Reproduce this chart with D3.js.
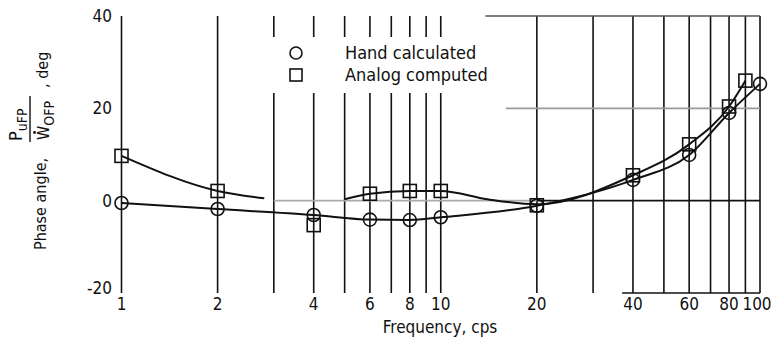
<!DOCTYPE html>
<html lang="en">
<head>
<meta charset="utf-8" />
<title>Phase angle</title>
<style>
  * { margin: 0; padding: 0; }
  body { background: white; }
  svg { display: block; }
  text { font-family: "Liberation Sans Narrow", "DejaVu Sans Condensed", "Roboto", sans-serif; fill: #111; }
  .grid { stroke: #111; stroke-width: 1.6px; }
  .curve { fill: none; stroke: #111; stroke-width: 2px; }
  .mark { fill: none; stroke: #111; stroke-width: 1.6px; }
</style>
</head>
<body>
<script src="https://cdn.jsdelivr.net/npm/d3@7"></script>
<svg id="chart" width="771" height="341"></svg>
<script>
  // tick labels
  var xTicks = [1, 2, 4, 6, 8, 10, 20, 40, 60, 80, 100];
  var yTicks = [-20, 0, 20, 40];
  var gridFreq = [1, 2, 3, 4, 5, 6, 7, 8, 9, 10, 20, 30, 40, 50, 60, 70, 80, 90, 100];

  // hand calculated (circles)
  var handFreq = [1, 2, 4, 6, 8, 10, 20, 40, 60, 80, 100];
  var handDeg = [-0.5, -1.8, -3.1, -4.1, -4.2, -3.6, -1.1, 4.5, 9.9, 19.0, 25.3];

  // analog computed (squares)
  var analogFreq = [1, 2, 4, 6, 8, 10, 20, 40, 60, 80, 90];
  var analogDeg = [9.7, 2.1, -5.3, 1.5, 2.1, 2.1, -1.0, 5.5, 12.2, 20.4, 26.0];

  // faired curve through the analog points (two pieces)
  var fairFreqA = [1, 2, 2.8];
  var fairDegA = [9.7, 2.1, 0.5];
  var fairFreqB = [5, 6, 8, 10, 14, 20, 40, 60, 80, 90];
  var fairDegB = [0.3, 1.5, 2.1, 2.1, 0.3, -0.8, 5.5, 12.2, 20.4, 26.0];

  var svg = d3.select("#chart");

  var x = d3.scaleLog().domain([1, 100]).range([121.5, 760]);
  var y = d3.scaleLinear().domain([-20, 40]).range([293, 16]);

  // vertical grid lines (3..10 are broken where the legend sits)
  gridFreq.forEach(function(f) {
    if (f >= 3 && f <= 10) {
      svg.append("line").attr("class", "grid")
        .attr("x1", x(f)).attr("x2", x(f)).attr("y1", y(40)).attr("y2", 37);
      svg.append("line").attr("class", "grid")
        .attr("x1", x(f)).attr("x2", x(f)).attr("y1", 93).attr("y2", y(-20));
    } else {
      svg.append("line").attr("class", "grid")
        .attr("x1", x(f)).attr("x2", x(f)).attr("y1", y(40)).attr("y2", y(-20));
    }
  });

  // partial horizontal lines
  var hLines = [
    {v: 40, from: 13.8, to: 100, color: "#555"},
    {v: 20, from: 16, to: 100, color: "#999"},
    {v: 0, from: 3, to: 20, color: "#aaa"},
    {v: 0, from: 20, to: 100, color: "#111"},
    {v: -20, from: 37, to: 100, color: "#111"}
  ];
  hLines.forEach(function(h) {
    svg.append("line").attr("class", "grid").style("stroke", h.color)
      .attr("x1", x(h.from)).attr("x2", x(h.to)).attr("y1", y(h.v)).attr("y2", y(h.v));
  });

  // tick labels
  svg.selectAll(".ytick").data(yTicks).enter().append("text")
    .attr("class", "ytick")
    .attr("x", 112)
    .attr("y", function(d) { return d == -20 ? y(d) - 5 : y(d); })
    .attr("dy", "0.36em")
    .attr("text-anchor", "end")
    .style("font-size", "17px")
    .text(function(d) { return d; });

  svg.selectAll(".xtick").data(xTicks).enter().append("text")
    .attr("class", "xtick")
    .attr("x", function(d) { return d == 100 ? x(d) - 3 : x(d); })
    .attr("y", 310)
    .attr("text-anchor", "middle")
    .style("font-size", "17px")
    .text(function(d) { return d; });

  svg.append("text")
    .attr("x", 440).attr("y", 333)
    .attr("text-anchor", "middle")
    .style("font-size", "17px")
    .text("Frequency, cps");

  // y axis title, rotated
  var yt = svg.append("g").attr("transform", "rotate(-90)");
  yt.append("text").attr("x", -250).attr("y", 46).style("font-size", "16px").text("Phase angle,");
  var num = yt.append("text").attr("x", -141).attr("y", 22).style("font-size", "18px");
  num.append("tspan").text("P");
  num.append("tspan").attr("dy", 5).style("font-size", "14px").text("uFP");
  yt.append("line").attr("x1", -142).attr("x2", -96).attr("y1", 30).attr("y2", 30)
    .style("stroke", "#111").style("stroke-width", "1.4px");
  var den = yt.append("text").attr("x", -140).attr("y", 49).style("font-size", "16px");
  den.append("tspan").text("W");
  den.append("tspan").attr("dy", 5).style("font-size", "14px").text("OFP");
  yt.append("circle").attr("cx", -132.5).attr("cy", 34.5).attr("r", 1.4).style("fill", "#111");
  yt.append("text").attr("x", -88).attr("y", 48).style("font-size", "16px").text(", deg");

  // curves
  var line = d3.line()
    .x(function(d) { return x(d[0]); })
    .y(function(d) { return y(d[1]); })
    .curve(d3.curveMonotoneX);

  svg.append("path").attr("class", "curve")
    .attr("d", line(d3.zip(handFreq, handDeg)));
  svg.append("path").attr("class", "curve")
    .attr("d", line(d3.zip(fairFreqA, fairDegA)));
  svg.append("path").attr("class", "curve")
    .attr("d", line(d3.zip(fairFreqB, fairDegB)));

  // markers
  var r = 6.5;
  svg.selectAll(".circ").data(d3.zip(handFreq, handDeg)).enter().append("circle")
    .attr("class", "mark circ")
    .attr("cx", function(d) { return x(d[0]); })
    .attr("cy", function(d) { return y(d[1]); })
    .attr("r", r);
  svg.selectAll(".sq").data(d3.zip(analogFreq, analogDeg)).enter().append("rect")
    .attr("class", "mark sq")
    .attr("x", function(d) { return x(d[0]) - r; })
    .attr("y", function(d) { return y(d[1]) - r; })
    .attr("width", 2 * r).attr("height", 2 * r);

  // legend
  var lg = svg.append("g");
  lg.append("circle").attr("class", "mark").attr("cx", 296).attr("cy", 53).attr("r", 6);
  lg.append("rect").attr("class", "mark").attr("x", 290).attr("y", 69).attr("width", 12).attr("height", 12);
  lg.append("text").attr("x", 345).attr("y", 59).style("font-size", "18px").text("Hand calculated");
  lg.append("text").attr("x", 345).attr("y", 81).style("font-size", "18px").text("Analog computed");
</script>
</body>
</html>
